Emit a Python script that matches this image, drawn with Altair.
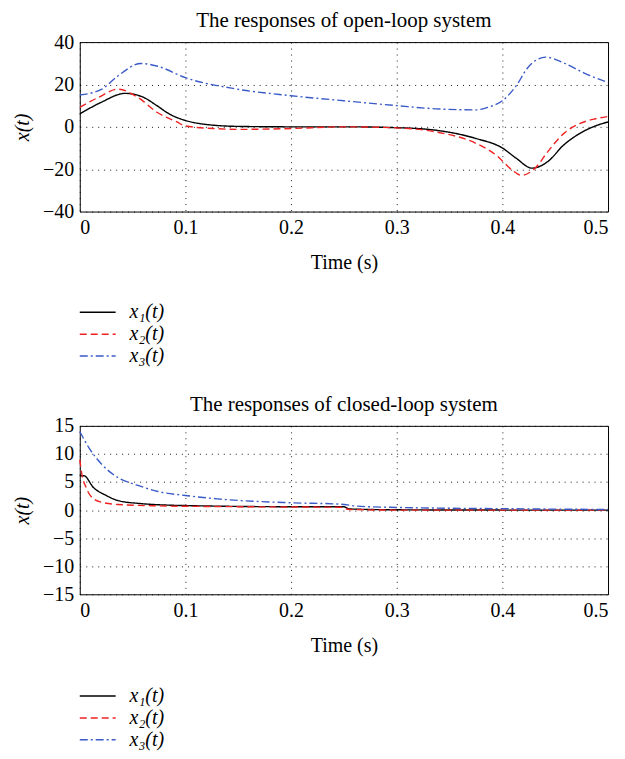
import altair as alt
import pandas as pd

series_names = ["x₁(t)", "x₂(t)", "x₃(t)"]
series_colors = ["#000000", "#ee2222", "#3a5bc7"]
series_dashes = [[1, 0], [7, 4], [8, 3, 2, 3]]

# Open-loop responses
ol_x1_t = [0, 0.02, 0.043, 0.06, 0.073, 0.085, 0.1, 0.122, 0.15, 0.2, 0.25, 0.3, 0.337, 0.375, 0.4, 0.413, 0.428, 0.443, 0.458, 0.473, 0.488, 0.5]
ol_x1_v = [6.1, 11.5, 15.8, 14.0, 10.0, 6.0, 3.0, 1.0, 0.2, 0.0, 0.0, -0.4, -1.6, -5.5, -10.0, -14.8, -19.5, -16.4, -8.6, -3.2, 0.4, 2.3]
ol_x2_t = [0, 0.018, 0.036, 0.055, 0.073, 0.092, 0.1, 0.13, 0.15, 0.2, 0.25, 0.3, 0.337, 0.375, 0.394, 0.409, 0.418, 0.431, 0.443, 0.458, 0.473, 0.488, 0.5]
ol_x2_v = [9.2, 14.0, 17.8, 13.9, 6.9, 2.3, 0.4, -0.9, -1.2, -0.8, 0.0, -0.5, -2.4, -7.8, -13.3, -20.3, -22.9, -19.5, -11.7, -3.2, 1.5, 3.8, 4.9]
ol_x3_t = [0, 0.021, 0.036, 0.058, 0.073, 0.1, 0.149, 0.2, 0.25, 0.3, 0.337, 0.375, 0.386, 0.4, 0.413, 0.424, 0.441, 0.458, 0.477, 0.5]
ol_x3_v = [15.0, 17.8, 24.0, 29.9, 28.7, 23.2, 17.8, 14.7, 12.3, 10.0, 8.5, 8.0, 9.2, 12.3, 19.3, 27.9, 32.9, 30.2, 25.5, 20.9]

# Closed-loop responses
cl_x1_t = [0, 0.004, 0.013, 0.025, 0.036, 0.055, 0.1, 0.2, 0.25, 0.255, 0.3, 0.4, 0.5]
cl_x1_v = [6.1, 6.1, 4.0, 2.6, 1.7, 1.2, 0.8, 0.6, 0.6, 0.2, 0.05, 0.0, 0.0]
cl_x2_t = [0, 0.002, 0.006, 0.013, 0.023, 0.036, 0.074, 0.15, 0.247, 0.255, 0.3, 0.4, 0.5]
cl_x2_v = [9.0, 6.4, 4.0, 2.0, 1.3, 1.0, 0.75, 0.6, 0.5, 0.1, 0.0, 0.0, 0.0]
cl_x3_t = [0, 0.009, 0.021, 0.036, 0.055, 0.074, 0.1, 0.13, 0.2, 0.247, 0.262, 0.3, 0.4, 0.5]
cl_x3_v = [14.0, 11.0, 8.1, 5.8, 4.4, 3.3, 2.6, 2.0, 1.3, 1.05, 0.7, 0.47, 0.25, 0.1]

x_ticks = [0, 0.1, 0.2, 0.3, 0.4, 0.5]
ol_y_ticks = [-40, -20, 0, 20, 40]
cl_y_ticks = [-15, -10, -5, 0, 5, 10, 15]

SERIF = "Liberation Serif"
FS = 20


def build_df(ts, vs):
    rows = []
    for name, t_list, v_list in zip(series_names, ts, vs):
        for i, (t, v) in enumerate(zip(t_list, v_list)):
            rows.append({"t": t, "v": v, "series": name, "order": i})
    return pd.DataFrame(rows)


def panel(df, title, y_ticks, h):
    legend = alt.Legend(
        title=None, orient="none", legendX=8, legendY=261,
        symbolType="M-3,0H3", symbolSize=144, symbolStrokeWidth=1.5,
        labelFont=SERIF, labelFontSize=FS, labelFontStyle="italic",
        labelColor="black", labelOffset=22, rowPadding=2,
    )
    return alt.Chart(df).mark_line(strokeWidth=1.4, interpolate="monotone").encode(
        x=alt.X("t:Q", scale=alt.Scale(domain=[0, 0.5], nice=False),
                axis=alt.Axis(values=x_ticks, title="Time (s)",
                              labelExpr="datum.value == 0 ? '0' : format(datum.value, '.1f')")),
        y=alt.Y("v:Q", scale=alt.Scale(domain=[y_ticks[0], y_ticks[-1]], nice=False),
                axis=alt.Axis(values=y_ticks, title="x(t)", titleFontStyle="italic",
                              labelExpr="replace(format(datum.value, 'd'), '-', '−')")),
        color=alt.Color("series:N", scale=alt.Scale(domain=series_names, range=series_colors), legend=legend),
        strokeDash=alt.StrokeDash("series:N", scale=alt.Scale(domain=series_names, range=series_dashes), legend=legend),
        detail="series:N",
        order="order:Q",
    ).properties(
        width=530, height=h,
        title=alt.TitleParams(title, font=SERIF, fontSize=21, fontWeight="normal", color="black", offset=1),
    )


top = panel(build_df([ol_x1_t, ol_x2_t, ol_x3_t], [ol_x1_v, ol_x2_v, ol_x3_v]),
            "The responses of open-loop system", ol_y_ticks, 170)
bottom = panel(build_df([cl_x1_t, cl_x2_t, cl_x3_t], [cl_x1_v, cl_x2_v, cl_x3_v]),
               "The responses of closed-loop system", cl_y_ticks, 169)

chart = alt.vconcat(top, bottom, spacing=26).resolve_scale(
    color="independent", strokeDash="independent"
).resolve_legend(color="independent", strokeDash="independent").properties(
    padding={"left": 4, "top": 0, "right": 5, "bottom": 0}
).configure_view(stroke="black", strokeWidth=1).configure_axis(
    labelFont=SERIF, labelFontSize=FS, labelColor="black",
    titleFont=SERIF, titleFontSize=FS, titleColor="black", titleFontWeight="normal",
    domain=False, ticks=False, labelPadding=6,
    grid=True, gridColor="black", gridDash=[1, 5], gridWidth=1, gridOpacity=0.9,
).configure_axisX(titlePadding=15).configure_axisY(titlePadding=10)

chart.save("out.html", embed_options={"renderer": "svg", "actions": False})
